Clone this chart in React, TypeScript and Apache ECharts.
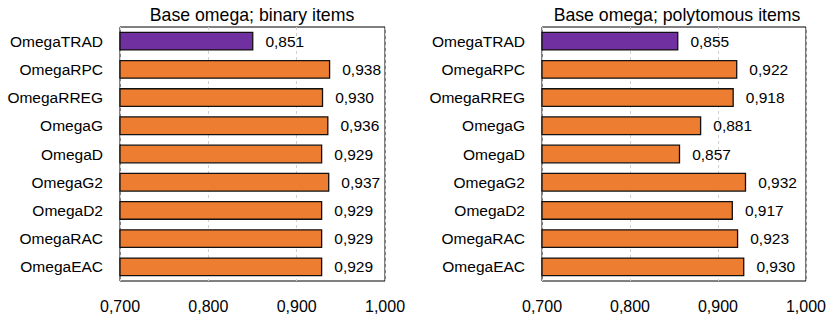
import React, { useEffect, useRef } from "react";
import * as echarts from "echarts";

const categories = [
  "OmegaTRAD",
  "OmegaRPC",
  "OmegaRREG",
  "OmegaG",
  "OmegaD",
  "OmegaG2",
  "OmegaD2",
  "OmegaRAC",
  "OmegaEAC",
];
const binaryValues = [0.851, 0.938, 0.93, 0.936, 0.929, 0.937, 0.929, 0.929, 0.929];
const polytomousValues = [0.855, 0.922, 0.918, 0.881, 0.857, 0.932, 0.917, 0.923, 0.93];
const titles = ["Base omega; binary items", "Base omega; polytomous items"];
const xMin = 0.7;
const xMax = 1.0;
const xInterval = 0.1;

const FONT = "'Liberation Sans', Arial, sans-serif";
const PURPLE = "#7030A0";
const ORANGE = "#ED7D31";

const fmt = (v: number) => v.toFixed(3).replace(".", ",");

export default function App() {
  const ref = useRef<HTMLDivElement>(null);
  useEffect(() => {
    if (!ref.current) return;
    const chart = echarts.init(ref.current, undefined, { renderer: "svg" });
    const grids = [
      { left: 120, width: 265, top: 27, height: 254 },
      { left: 542, width: 264, top: 27, height: 254 },
    ];
    const makeSeries = (vals: number[], idx: number) => ({
      type: "bar",
      xAxisIndex: idx,
      yAxisIndex: idx,
      barWidth: "67%",
      data: vals.map((v, i) => ({
        value: v,
        itemStyle: { color: i === 0 ? PURPLE : ORANGE },
      })),
      itemStyle: { borderColor: "#111", borderWidth: 1.3 },
      label: {
        show: true,
        position: "right",
        distance: 12,
        formatter: (p: any) => fmt(p.value),
        color: "#000",
        fontSize: 15.5,
        fontFamily: FONT,
      },
    });
    chart.setOption({
      animation: false,
      backgroundColor: "#fff",
      title: [
        {
          text: titles[0],
          left: 247,
          top: 1,
          textAlign: "center",
          textStyle: { fontSize: 17.7, fontWeight: "normal", color: "#000", fontFamily: FONT },
        },
        {
          text: titles[1],
          left: 672,
          top: 1,
          textAlign: "center",
          textStyle: { fontSize: 17.7, fontWeight: "normal", color: "#000", fontFamily: FONT },
        },
      ],
      grid: grids.map((g) => ({
        ...g,
        show: true,
        borderColor: "#000",
        borderWidth: 1,
        backgroundColor: "transparent",
      })),
      xAxis: [0, 1].map((i) => ({
        type: "value",
        gridIndex: i,
        min: xMin,
        max: xMax,
        interval: xInterval,
        axisLine: { show: false },
        axisTick: { show: false },
        axisLabel: {
          margin: 17,
          formatter: (v: number) => fmt(v),
          color: "#000",
          fontSize: 16,
          fontFamily: FONT,
        },
        splitLine: {
          show: true,
          lineStyle: { color: "#d0d0d0", type: [3, 3], width: 1 },
        },
      })),
      yAxis: [0, 1].map((i) => ({
        type: "category",
        gridIndex: i,
        inverse: true,
        data: categories,
        axisLine: { show: false },
        axisTick: { show: false },
        axisLabel: {
          margin: 17,
          color: "#000",
          fontSize: 15.5,
          fontFamily: FONT,
        },
        splitLine: { show: false },
      })),
      series: [makeSeries(binaryValues, 0), makeSeries(polytomousValues, 1)],
    });
    return () => chart.dispose();
  }, []);
  return <div ref={ref} style={{ width: 829, height: 318, position: "absolute", left: 0, top: 0 }} />;
}
